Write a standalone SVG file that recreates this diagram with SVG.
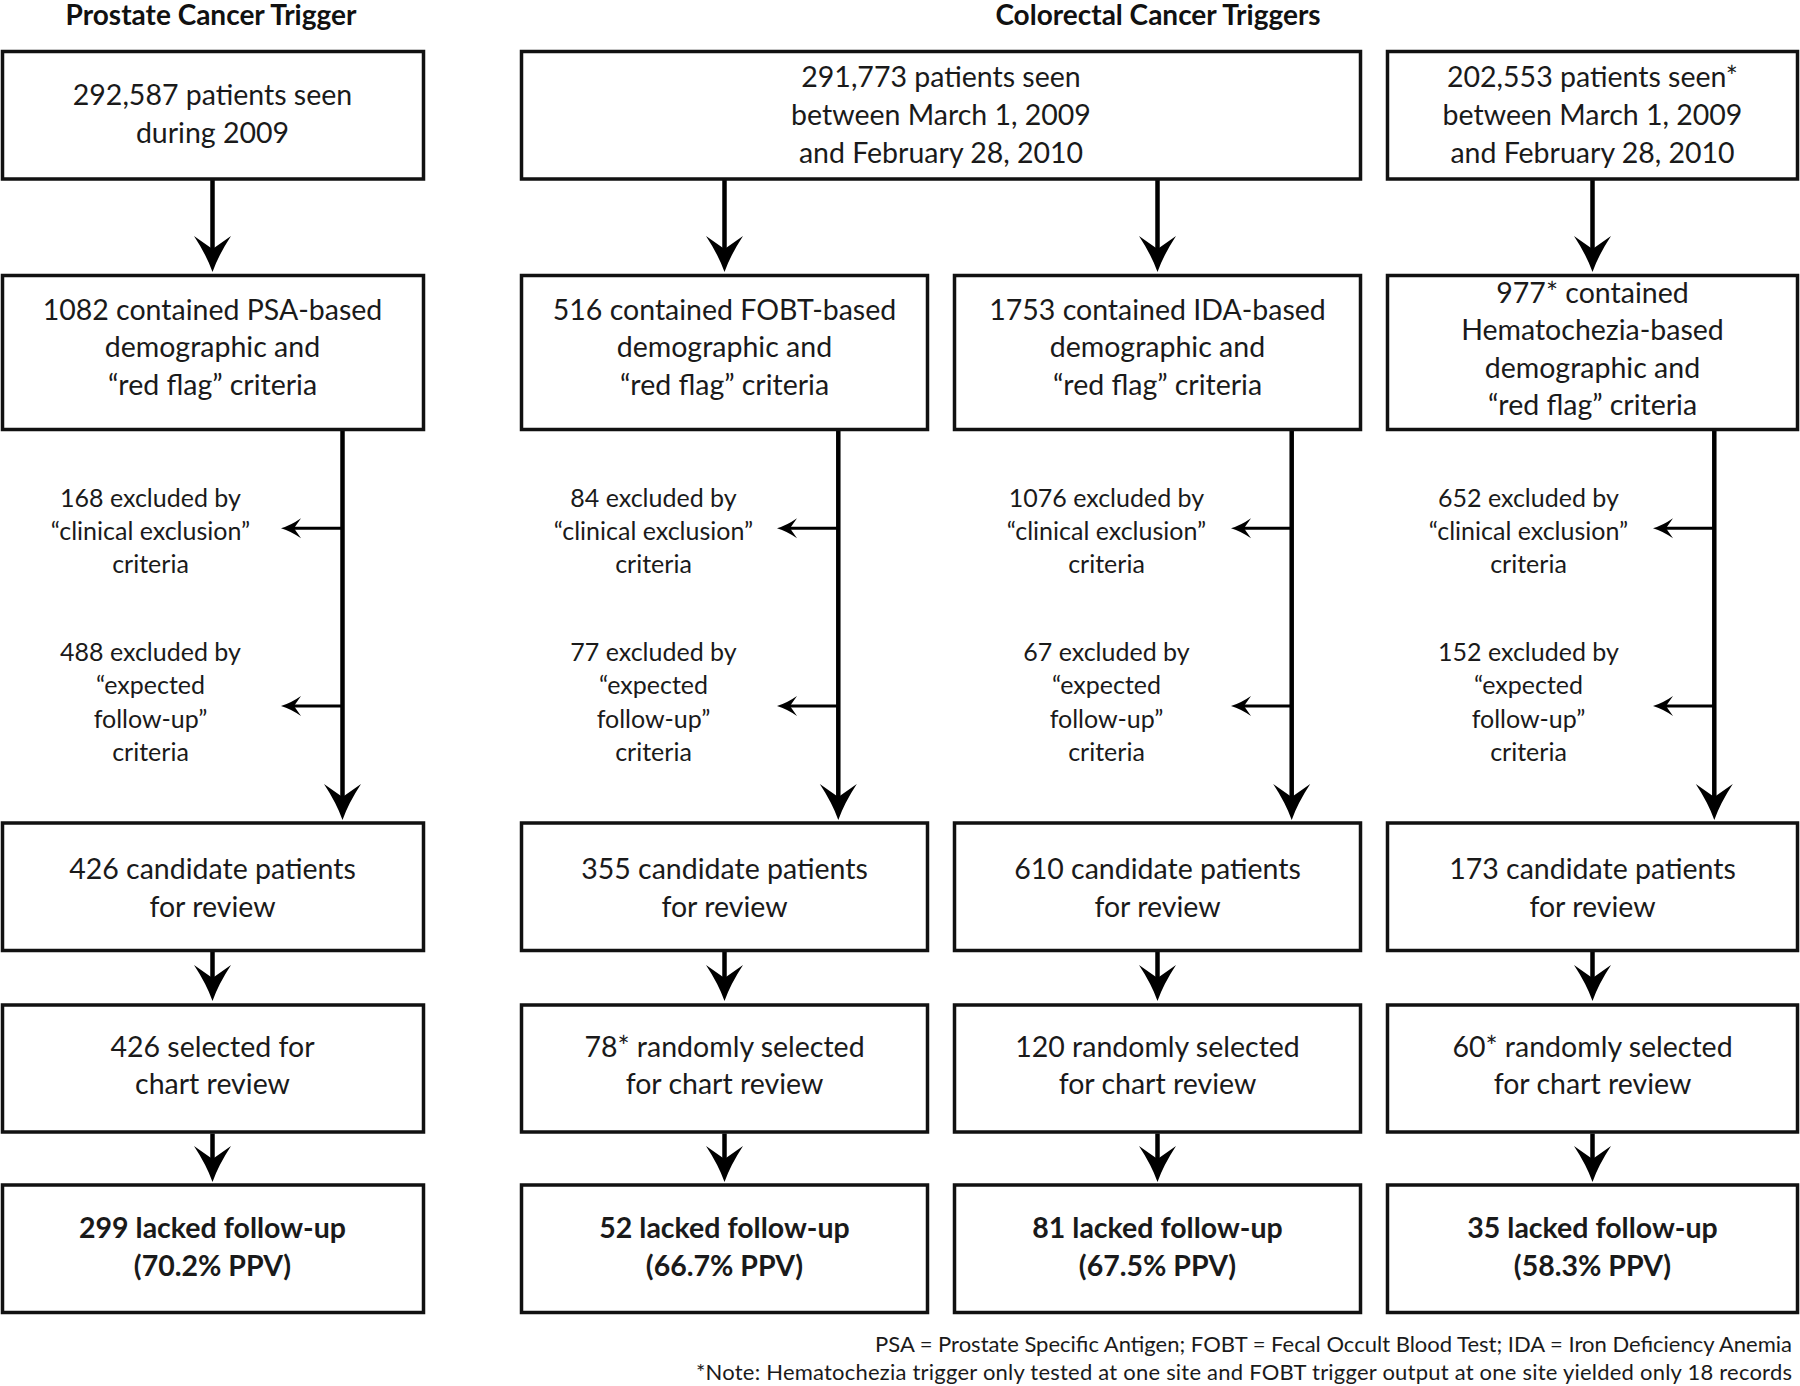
<svg xmlns="http://www.w3.org/2000/svg" width="1800" height="1386" viewBox="0 0 1800 1386">
<style>
.box{fill:#fff;stroke:#111;stroke-width:3.5}
.t{font-family:Lato,"Liberation Sans",sans-serif;font-size:28.5px;fill:#1a1a1a;text-anchor:middle}
.tb{font-family:Lato,"Liberation Sans",sans-serif;font-size:28.5px;font-weight:bold;fill:#1a1a1a;text-anchor:middle}
.ex{font-family:Lato,"Liberation Sans",sans-serif;font-size:25px;fill:#1a1a1a;text-anchor:middle}
.hd{font-family:Lato,"Liberation Sans",sans-serif;font-size:28px;font-weight:bold;fill:#111;text-anchor:middle}
.fn{font-family:Lato,"Liberation Sans",sans-serif;font-size:22px;fill:#1a1a1a;text-anchor:end}
.main{fill:none;stroke:#000;stroke-width:4.5;marker-end:url(#big)}
.side{fill:none;stroke:#000;stroke-width:3;marker-end:url(#small)}
</style>
<defs>
<marker id="big" markerUnits="userSpaceOnUse" viewBox="-38 -20 40 40" refX="-10" refY="0" markerWidth="40" markerHeight="40" orient="auto">
<path d="M0,0 Q-17,-6 -36,-18.5 L-23,0 L-36,18.5 Q-17,6 0,0 Z" fill="#000"/>
</marker>
<marker id="small" markerUnits="userSpaceOnUse" viewBox="-22 -12 24 24" refX="-8" refY="0" markerWidth="24" markerHeight="24" orient="auto">
<path d="M0,0 Q-10,-3 -20,-10 L-13,0 L-20,10 Q-10,3 0,0 Z" fill="#000"/>
</marker>
</defs>

<g id="headers">
<text class="hd" x="211" y="25">Prostate Cancer Trigger</text>
<text class="hd" x="1158" y="25">Colorectal Cancer Triggers</text>
</g>

<g id="connectors">
<line class="main" x1="212.5" y1="180" x2="212.5" y2="262"/>
<line class="main" x1="724.5" y1="180" x2="724.5" y2="262"/>
<line class="main" x1="1157.5" y1="180" x2="1157.5" y2="262"/>
<line class="main" x1="1592.5" y1="180" x2="1592.5" y2="262"/>

<line class="main" x1="342.5" y1="431" x2="342.5" y2="810"/>
<line class="main" x1="838.3" y1="431" x2="838.3" y2="810"/>
<line class="main" x1="1291.7" y1="431" x2="1291.7" y2="810"/>
<line class="main" x1="1714.3" y1="431" x2="1714.3" y2="810"/>

<line class="side" x1="342.5" y1="528.3" x2="289" y2="528.3"/>
<line class="side" x1="342.5" y1="706" x2="289" y2="706"/>
<line class="side" x1="838.3" y1="528.3" x2="785" y2="528.3"/>
<line class="side" x1="838.3" y1="706" x2="785" y2="706"/>
<line class="side" x1="1291.7" y1="528.3" x2="1239" y2="528.3"/>
<line class="side" x1="1291.7" y1="706" x2="1239" y2="706"/>
<line class="side" x1="1714.3" y1="528.3" x2="1661" y2="528.3"/>
<line class="side" x1="1714.3" y1="706" x2="1661" y2="706"/>

<line class="main" x1="212.5" y1="952" x2="212.5" y2="991"/>
<line class="main" x1="724.5" y1="952" x2="724.5" y2="991"/>
<line class="main" x1="1157.5" y1="952" x2="1157.5" y2="991"/>
<line class="main" x1="1592.5" y1="952" x2="1592.5" y2="991"/>

<line class="main" x1="212.5" y1="1133.5" x2="212.5" y2="1172"/>
<line class="main" x1="724.5" y1="1133.5" x2="724.5" y2="1172"/>
<line class="main" x1="1157.5" y1="1133.5" x2="1157.5" y2="1172"/>
<line class="main" x1="1592.5" y1="1133.5" x2="1592.5" y2="1172"/>
</g>

<g id="p1">
<rect class="box" x="2.5" y="51.5" width="421" height="127.5"/>
<text class="t" x="212.5" y="105">292,587 patients seen</text>
<text class="t" x="212.5" y="142.7">during 2009</text>
</g>
<g id="c1">
<rect class="box" x="521.5" y="51.5" width="839" height="127.5"/>
<text class="t" x="941" y="87.3">291,773 patients seen</text>
<text class="t" x="941" y="125">between March 1, 2009</text>
<text class="t" x="941" y="162.7">and February 28, 2010</text>
</g>
<g id="h1">
<rect class="box" x="1387.5" y="51.5" width="410" height="127.5"/>
<text class="t" x="1592.5" y="87.3">202,553 patients seen*</text>
<text class="t" x="1592.5" y="125">between March 1, 2009</text>
<text class="t" x="1592.5" y="162.7">and February 28, 2010</text>
</g>

<g id="p2">
<rect class="box" x="2.5" y="275.5" width="421" height="154"/>
<text class="t" x="212.5" y="319.5">1082 contained PSA-based</text>
<text class="t" x="212.5" y="357.3">demographic and</text>
<text class="t" x="212.5" y="395">“red flag” criteria</text>
</g>
<g id="f2">
<rect class="box" x="521.5" y="275.5" width="406" height="154"/>
<text class="t" x="724.5" y="319.5">516 contained FOBT-based</text>
<text class="t" x="724.5" y="357.3">demographic and</text>
<text class="t" x="724.5" y="395">“red flag” criteria</text>
</g>
<g id="i2">
<rect class="box" x="954.5" y="275.5" width="406" height="154"/>
<text class="t" x="1157.5" y="319.5">1753 contained IDA-based</text>
<text class="t" x="1157.5" y="357.3">demographic and</text>
<text class="t" x="1157.5" y="395">“red flag” criteria</text>
</g>
<g id="h2">
<rect class="box" x="1387.5" y="275.5" width="410" height="154"/>
<text class="t" x="1592.5" y="302.7">977* contained</text>
<text class="t" x="1592.5" y="340">Hematochezia-based</text>
<text class="t" x="1592.5" y="378">demographic and</text>
<text class="t" x="1592.5" y="415.3">“red flag” criteria</text>
</g>

<g id="p-excl">
<text class="ex" x="150.5" y="506.7">168 excluded by</text>
<text class="ex" x="150.5" y="540">“clinical exclusion”</text>
<text class="ex" x="150.5" y="573.3">criteria</text>
<text class="ex" x="150.5" y="661">488 excluded by</text>
<text class="ex" x="150.5" y="694.3">“expected</text>
<text class="ex" x="150.5" y="727.7">follow-up”</text>
<text class="ex" x="150.5" y="761">criteria</text>
</g>
<g id="f-excl">
<text class="ex" x="653.5" y="506.7">84 excluded by</text>
<text class="ex" x="653.5" y="540">“clinical exclusion”</text>
<text class="ex" x="653.5" y="573.3">criteria</text>
<text class="ex" x="653.5" y="661">77 excluded by</text>
<text class="ex" x="653.5" y="694.3">“expected</text>
<text class="ex" x="653.5" y="727.7">follow-up”</text>
<text class="ex" x="653.5" y="761">criteria</text>
</g>
<g id="i-excl">
<text class="ex" x="1106.5" y="506.7">1076 excluded by</text>
<text class="ex" x="1106.5" y="540">“clinical exclusion”</text>
<text class="ex" x="1106.5" y="573.3">criteria</text>
<text class="ex" x="1106.5" y="661">67 excluded by</text>
<text class="ex" x="1106.5" y="694.3">“expected</text>
<text class="ex" x="1106.5" y="727.7">follow-up”</text>
<text class="ex" x="1106.5" y="761">criteria</text>
</g>
<g id="h-excl">
<text class="ex" x="1528.5" y="506.7">652 excluded by</text>
<text class="ex" x="1528.5" y="540">“clinical exclusion”</text>
<text class="ex" x="1528.5" y="573.3">criteria</text>
<text class="ex" x="1528.5" y="661">152 excluded by</text>
<text class="ex" x="1528.5" y="694.3">“expected</text>
<text class="ex" x="1528.5" y="727.7">follow-up”</text>
<text class="ex" x="1528.5" y="761">criteria</text>
</g>

<g id="p3">
<rect class="box" x="2.5" y="823" width="421" height="127.5"/>
<text class="t" x="212.5" y="879.3">426 candidate patients</text>
<text class="t" x="212.5" y="916.7">for review</text>
</g>
<g id="f3">
<rect class="box" x="521.5" y="823" width="406" height="127.5"/>
<text class="t" x="724.5" y="879.3">355 candidate patients</text>
<text class="t" x="724.5" y="916.7">for review</text>
</g>
<g id="i3">
<rect class="box" x="954.5" y="823" width="406" height="127.5"/>
<text class="t" x="1157.5" y="879.3">610 candidate patients</text>
<text class="t" x="1157.5" y="916.7">for review</text>
</g>
<g id="h3">
<rect class="box" x="1387.5" y="823" width="410" height="127.5"/>
<text class="t" x="1592.5" y="879.3">173 candidate patients</text>
<text class="t" x="1592.5" y="916.7">for review</text>
</g>

<g id="p4">
<rect class="box" x="2.5" y="1005" width="421" height="127"/>
<text class="t" x="212.5" y="1056.7">426 selected for</text>
<text class="t" x="212.5" y="1094">chart review</text>
</g>
<g id="f4">
<rect class="box" x="521.5" y="1005" width="406" height="127"/>
<text class="t" x="724.5" y="1056.7">78* randomly selected</text>
<text class="t" x="724.5" y="1094">for chart review</text>
</g>
<g id="i4">
<rect class="box" x="954.5" y="1005" width="406" height="127"/>
<text class="t" x="1157.5" y="1056.7">120 randomly selected</text>
<text class="t" x="1157.5" y="1094">for chart review</text>
</g>
<g id="h4">
<rect class="box" x="1387.5" y="1005" width="410" height="127"/>
<text class="t" x="1592.5" y="1056.7">60* randomly selected</text>
<text class="t" x="1592.5" y="1094">for chart review</text>
</g>

<g id="p5">
<rect class="box" x="2.5" y="1185" width="421" height="127.5"/>
<text class="tb" x="212.5" y="1238.3">299 lacked follow-up</text>
<text class="tb" x="212.5" y="1275.5">(70.2% PPV)</text>
</g>
<g id="f5">
<rect class="box" x="521.5" y="1185" width="406" height="127.5"/>
<text class="tb" x="724.5" y="1238.3">52 lacked follow-up</text>
<text class="tb" x="724.5" y="1275.5">(66.7% PPV)</text>
</g>
<g id="i5">
<rect class="box" x="954.5" y="1185" width="406" height="127.5"/>
<text class="tb" x="1157.5" y="1238.3">81 lacked follow-up</text>
<text class="tb" x="1157.5" y="1275.5">(67.5% PPV)</text>
</g>
<g id="h5">
<rect class="box" x="1387.5" y="1185" width="410" height="127.5"/>
<text class="tb" x="1592.5" y="1238.3">35 lacked follow-up</text>
<text class="tb" x="1592.5" y="1275.5">(58.3% PPV)</text>
</g>

<g id="footnotes">
<text class="fn" x="1792" y="1351.7">PSA = Prostate Specific Antigen; FOBT = Fecal Occult Blood Test; IDA = Iron Deficiency Anemia</text>
<text class="fn" x="1792" y="1380" textLength="1096" lengthAdjust="spacing">*Note: Hematochezia trigger only tested at one site and FOBT trigger output at one site yielded only 18 records</text>
</g>
</svg>
